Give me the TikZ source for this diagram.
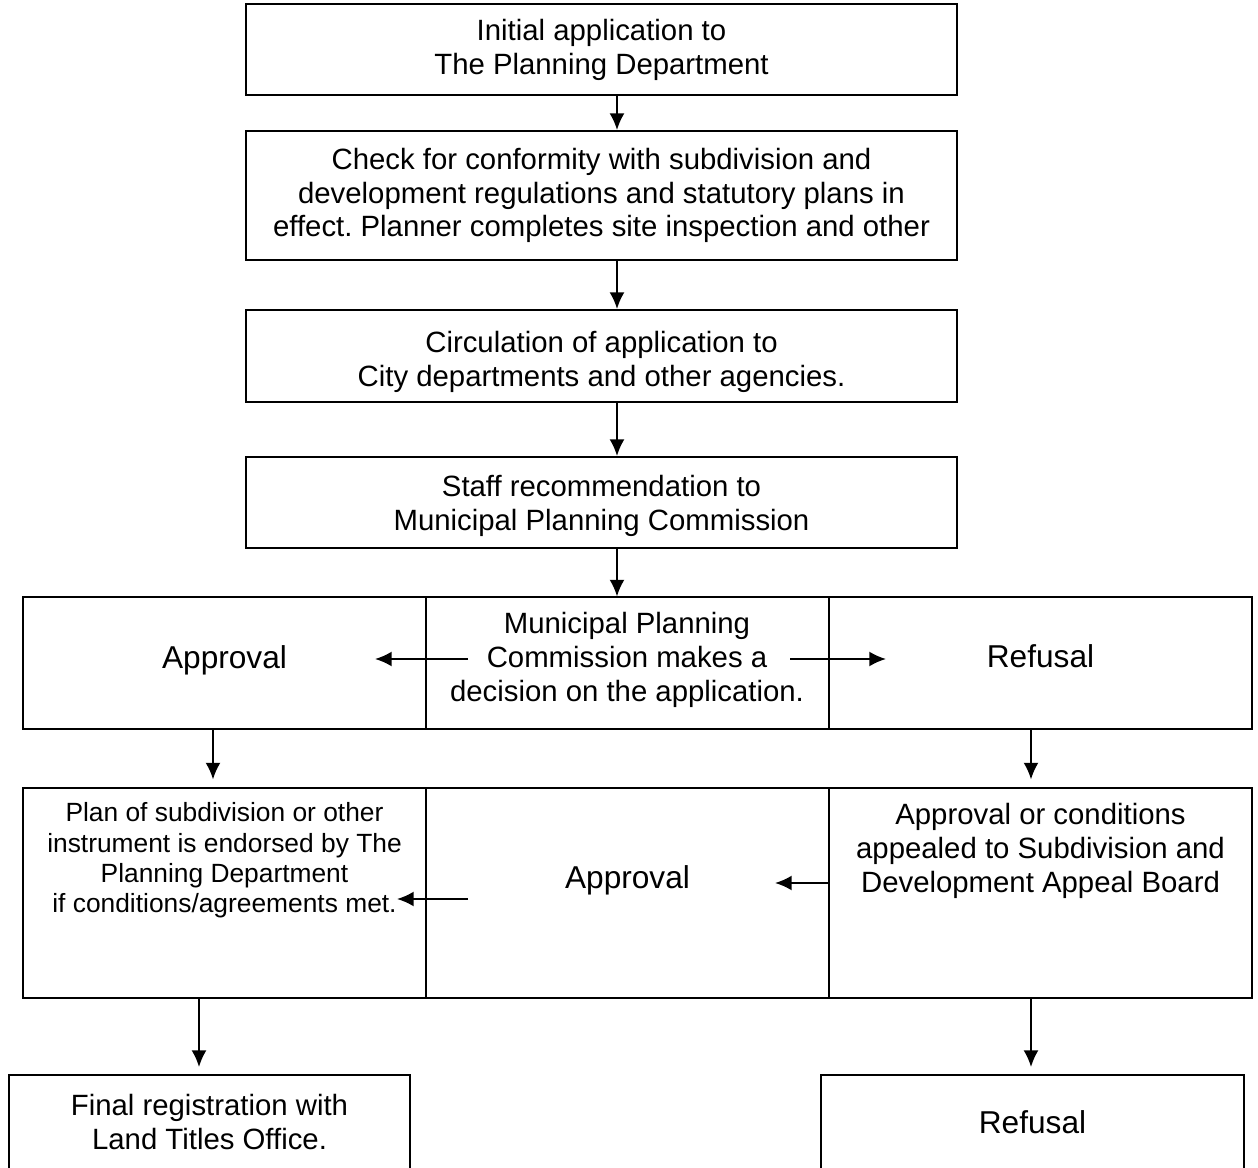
\documentclass[tikz,border=0pt]{standalone}
\usepackage{fontspec}
\setmainfont{Liberation Sans}
\usetikzlibrary{calc,arrows.meta}
\frenchspacing

\tikzset{
	box/.style={draw, line width=1.1pt, align=center, inner sep=0pt},
	cell/.style={draw, line width=0.6pt, inner sep=0pt},
	txt/.style={align=center, inner sep=0pt},
	big/.style={font=\fontsize{18}{21}\selectfont},
	small/.style={font=\fontsize{15}{17.3}\selectfont},
	arr/.style={-{Latex[length=9.5pt,width=8.5pt]}, line width=1.1pt}
}

\begin{document}
\begin{tikzpicture}[x=0.02cm, y=-0.02cm, font=\fontsize{16.7}{19.3}\selectfont]

	\useasboundingbox (0,0) rectangle (1258,1168);

	% x positions of the down arrows
	\coordinate (xmain) at (617,0);
	\coordinate (xapr) at (213,0);
	\coordinate (xref) at (1031,0);
	\coordinate (xplan) at (199,0);

	% main column
	\node[box, minimum width=14.22cm, minimum height=1.82cm] (init) at (601.5,49.5) {Initial application to\\The Planning Department};
	\node[box, minimum width=14.22cm, minimum height=2.58cm] (check) at (601.5,195.5) {Check for conformity with subdivision and\\development regulations and statutory plans in\\effect. Planner completes site inspection and other};
	\node[box, minimum width=14.22cm, minimum height=1.84cm] (circ) at (601.5,356) {};
	\node[txt] (circtxt) at (601.5,362) {Circulation of application to\\City departments and other agencies.};
	\node[box, minimum width=14.22cm, minimum height=1.82cm] (staff) at (601.5,502.5) {};
	\node[txt] (stafftxt) at (601.5,506) {Staff recommendation to\\Municipal Planning Commission};

	\draw[arr] (init.south -| xmain) -- (check.north -| xmain);
	\draw[arr] (check.south -| xmain) -- (circ.north -| xmain);
	\draw[arr] (circ.south -| xmain) -- (staff.north -| xmain);

	% decision row
	\node[cell, minimum width=8.06cm, minimum height=2.64cm] (apr1) at (224.5,663) {};
	\node[cell, minimum width=8.06cm, minimum height=2.64cm] (mpc) at (627.5,663) {};
	\node[cell, minimum width=8.46cm, minimum height=2.64cm] (ref1) at (1040.5,663) {};
	\draw[line width=1.1pt] (apr1.north west) rectangle (ref1.south east);

	\draw[arr] (staff.south -| xmain) -- (mpc.north -| xmain);

	\node[txt, big] (apr1txt) at (224.5,660) {Approval};
	\node[txt] (mpctxt) at (627,660) {Municipal Planning\\Commission makes a\\decision on the application.};
	\node[txt, big] (ref1txt) at (1040.5,656) {Refusal};

	\coordinate (mpcl) at (468,659);
	\coordinate (mpcr) at (790,659);
	\coordinate (apr1end) at (375,659);
	\coordinate (ref1end) at (886,659);
	\draw[arr] (mpcl) -- (apr1end);
	\draw[arr] (mpcr) -- (ref1end);

	% appeal row
	\node[cell, minimum width=8.06cm, minimum height=4.2cm] (plan) at (224.5,893) {};
	\node[cell, minimum width=8.06cm, minimum height=4.2cm] (apr2) at (627.5,893) {};
	\node[cell, minimum width=8.46cm, minimum height=4.2cm] (appeal) at (1040.5,893) {};
	\draw[line width=1.1pt] (plan.north west) rectangle (appeal.south east);

	\node[txt, small] (plantxt) at (224.5,860.5) {Plan of subdivision or other\\instrument is endorsed by The\\Planning Department\\if conditions/agreements met.};
	\node[txt, big] (apr2txt) at (627.5,880) {Approval};
	\node[txt] (appealtxt) at (1040.5,851) {Approval or conditions\\appealed to Subdivision and\\Development Appeal Board};

	\draw[arr, shorten >=0.16cm] (apr1.south -| xapr) -- (plan.north -| xapr);
	\draw[arr, shorten >=0.16cm] (ref1.south -| xref) -- (appeal.north -| xref);

	\coordinate (aprl) at (468,899);
	\coordinate (aprend) at (397,899);
	\coordinate (append) at (775,883);
	\draw[arr] (aprl) -- (aprend);
	\draw[arr] (appeal.west |- append) -- (append);

	% final boxes
	\node[box, minimum width=8.02cm, minimum height=2.6cm] (final) at (209.5,1140) {};
	\node[txt] (finaltxt) at (209.5,1122) {Final registration with\\Land Titles Office.};
	\node[box, minimum width=8.46cm, minimum height=2.6cm] (ref2) at (1032.5,1140) {};
	\node[txt, big] (ref2txt) at (1032.5,1122) {Refusal};

	\draw[arr, shorten >=0.14cm] (plan.south -| xplan) -- (final.north -| xplan);
	\draw[arr, shorten >=0.14cm] (appeal.south -| xref) -- (ref2.north -| xref);

\end{tikzpicture}
\end{document}
